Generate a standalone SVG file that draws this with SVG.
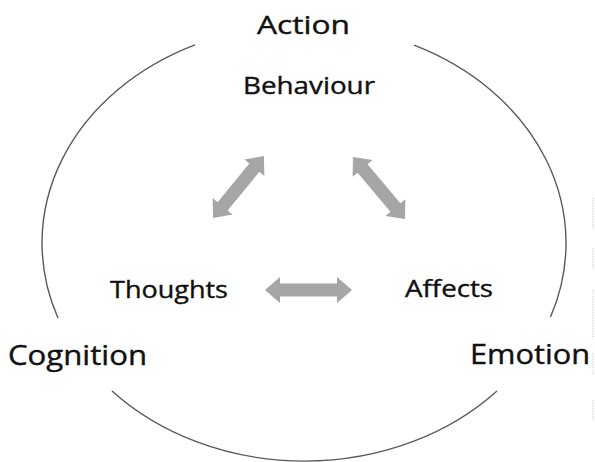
<svg xmlns="http://www.w3.org/2000/svg" width="595" height="462" viewBox="0 0 595 462">
  <style>
    .lbl { font-family: "Open Sans", "Liberation Sans", sans-serif; fill: #111; stroke: #111; stroke-width: 0.4; }
    .ring { fill: none; stroke: #5a5a5a; stroke-width: 1.4; }
    .arr { fill: #a6a6a6; }
    .scan { stroke: #d0d0d0; stroke-width: 1.2; stroke-dasharray: 1 1; }
  </style>
  <rect width="595" height="462" fill="#fff"/>

  <g id="ring">
    <path class="ring" d="M195,44.8 A262,218 0 0,0 58,318"/>
    <path class="ring" d="M112,391 A262,218 0 0,0 497,391"/>
    <path class="ring" d="M414,45.2 A262,218 0 0,1 550.5,317"/>
  </g>

  <g id="connectors">
    <polygon class="arr" transform="translate(238.5,187) rotate(-50.6)" points="-40,0 -25,-13 -25,-6.5 25,-6.5 25,-13 40,0 25,13 25,6.5 -25,6.5 -25,13"/>
    <polygon class="arr" transform="translate(379,188) rotate(50)" points="-40.5,0 -25.5,-13 -25.5,-6.5 25.5,-6.5 25.5,-13 40.5,0 25.5,13 25.5,6.5 -25.5,6.5 -25.5,13"/>
    <polygon class="arr" transform="translate(308.5,290)" points="-43.5,0 -28.5,-13 -28.5,-6.5 28.5,-6.5 28.5,-13 43.5,0 28.5,13 28.5,6.5 -28.5,6.5 -28.5,13"/>
  </g>

  <g id="action"><text class="lbl" x="257" y="34" font-size="26" textLength="93" lengthAdjust="spacingAndGlyphs">Action</text></g>
  <g id="behaviour"><text class="lbl" x="243" y="94" font-size="24" textLength="132" lengthAdjust="spacingAndGlyphs">Behaviour</text></g>
  <g id="thoughts"><text class="lbl" x="110" y="298" font-size="24" textLength="118" lengthAdjust="spacingAndGlyphs">Thoughts</text></g>
  <g id="affects"><text class="lbl" x="405" y="297" font-size="24" textLength="88" lengthAdjust="spacingAndGlyphs">Affects</text></g>
  <g id="cognition"><text class="lbl" x="8" y="365" font-size="27" textLength="139" lengthAdjust="spacingAndGlyphs">Cognition</text></g>
  <g id="emotion"><text class="lbl" x="470" y="364" font-size="27" textLength="120" lengthAdjust="spacingAndGlyphs">Emotion</text></g>

  <g id="scan-marks">
    <line class="scan" x1="593" y1="198" x2="593" y2="230"/>
    <line class="scan" x1="593" y1="248" x2="593" y2="270"/>
    <line class="scan" x1="593" y1="290" x2="593" y2="337"/>
    <line class="scan" x1="593" y1="353" x2="593" y2="375"/>
    <line class="scan" x1="593" y1="400" x2="593" y2="420"/>
  </g>
</svg>
